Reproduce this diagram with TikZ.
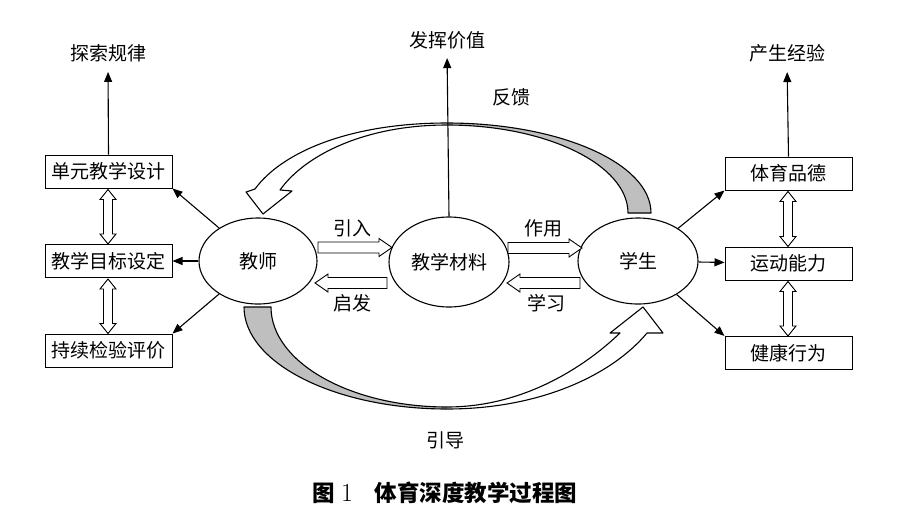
\documentclass[tikz,border=0pt]{standalone}
\usepackage{fontspec}
\newfontfamily\cjk{Noto Sans CJK SC}
\usetikzlibrary{shapes.geometric,arrows.meta}
\newcommand\dblarrow[3]{\draw[barrow] (#1,#2) -- ({#1+8},{#2+10}) -- ({#1+4.5},{#2+10}) -- ({#1+4.5},{#3-10}) -- ({#1+8},{#3-10}) -- (#1,#3) -- ({#1-8},{#3-10}) -- ({#1-4.5},{#3-10}) -- ({#1-4.5},{#2+10}) -- ({#1-8},{#2+10}) -- cycle;}
\newcommand\hblock[3]{\pgfmathsetmacro\hbd{ifthenelse(#2>#1,1,-1)}\draw[barrow] (#1,{#3-5.5}) -- ({#2-13*\hbd},{#3-5.5}) -- ({#2-13*\hbd},{#3-9}) -- (#2,#3) -- ({#2-13*\hbd},{#3+9}) -- ({#2-13*\hbd},{#3+5.5}) -- (#1,{#3+5.5}) -- cycle;}
\begin{document}
\begin{tikzpicture}[x=1pt,y=-1pt,
  every node/.style={font=\cjk\fontsize{19}{21}\selectfont},
  box/.style={draw,line width=1pt,minimum width=127pt,minimum height=33pt,inner sep=0pt},
  ell/.style={draw,ellipse,line width=1.1pt,inner sep=0pt},
  lbl/.style={inner sep=0pt},
  arr/.style={line width=1.1pt,-{Triangle[length=10pt,width=8pt]}},
  barrow/.style={draw,fill=white,line width=0.9pt,line join=miter},
  band/.style={draw,line width=1.1pt,line join=round},
  shade/.style={fill=gray!50}
]
\useasboundingbox (0,0) rectangle (900,528);
\fill[white] (0,0) rectangle (900,528);

% feedback curved arrow (top)
\fill[shade] (651,213) .. controls (651,163) and (559,123) .. (447,123) -- (447,125) .. controls (547,125) and (628,165) .. (628,213) -- cycle;
\draw[band] (651,213) .. controls (651,163) and (559,123) .. (447,123) .. controls (350,123) and (282,152) .. (255,189) -- (246,192) -- (263,214) -- (292,191) -- (280,190) .. controls (305,155) and (365,125) .. (447,125) .. controls (547,125) and (628,165) .. (628,213) -- cycle;

% guiding curved arrow (bottom)
\fill[shade] (244,307) .. controls (244,363) and (335,409) .. (447,409) -- (447,407) .. controls (350,407) and (271,362) .. (271,307) -- cycle;
\draw[band] (271,307) -- (244,307) .. controls (244,363) and (335,409) .. (447,409) .. controls (540,409) and (612,375) .. (647,333) -- (663,333) -- (643,307) -- (610,333) -- (620,333) .. controls (592,360) and (530,407) .. (447,407) .. controls (350,407) and (271,362) .. (271,307) -- cycle;

% ellipses
\node[ell,minimum width=118pt,minimum height=86pt] (T) at (258,261) {教师};
\node[ell,minimum width=120pt,minimum height=90pt] (M) at (449,262) {教学材料};
\node[ell,minimum width=120pt,minimum height=86pt] (S) at (638,261) {学生};

% boxes
\node[box] (B1) at (108.5,171.5) {单元教学设计};
\node[box] (B2) at (108.5,261) {教学目标设定};
\node[box] (B3) at (108.5,350.5) {持续检验评价};
\node[box] (R1) at (788.5,173.5) {体育品德};
\node[box] (R2) at (788.5,263.5) {运动能力};
\node[box] (R3) at (788.5,353) {健康行为};

% top labels
\node[lbl] (L1) at (108,53) {探索规律};
\node[lbl] (LM) at (447,40) {发挥价值};
\node[lbl] (LR) at (787,53) {产生经验};

% block arrows between ellipses
\hblock{318}{392}{247.5}
\hblock{387}{315}{283}
\hblock{508}{582}{248}
\hblock{580}{507}{283}

% double arrows between boxes
\dblarrow{108}{189.5}{244}
\dblarrow{108}{279}{333.5}
\dblarrow{788}{191.5}{246.5}
\dblarrow{788}{281.5}{336}

% straight arrows
\draw[arr,shorten >=10pt] (B1.north) -- (L1.south);
\draw[arr,shorten >=9pt] (M.north) -- (LM.south);
\draw[arr,shorten >=10pt] (R1.north) -- (LR.south);
\draw[arr] (T) -- (B1.south east);
\draw[arr] (T) -- (B2);
\draw[arr] (T) -- (B3.north east);
\draw[arr] (S) -- (R1.south west);
\draw[arr] (S) -- (R2);
\draw[arr] (S) -- (R3.north west);

% labels
\node[lbl] (fk) at (511,97) {反馈};
\node[lbl] (yd) at (445,440) {引导};
\node[lbl] (yr) at (352,228) {引入};
\node[lbl] (qf) at (352,303) {启发};
\node[lbl] (zy) at (543,228) {作用};
\node[lbl] (xx) at (546,303) {学习};

% caption
\node[lbl,font=\cjk\bfseries\fontsize{22.5}{25}\selectfont] (cap) at (445,493) {图\hspace{6pt}{\rmfamily\mdseries\fontsize{26}{26}\selectfont 1}\hspace{22pt}体育深度教学过程图};
\end{tikzpicture}
\end{document}
